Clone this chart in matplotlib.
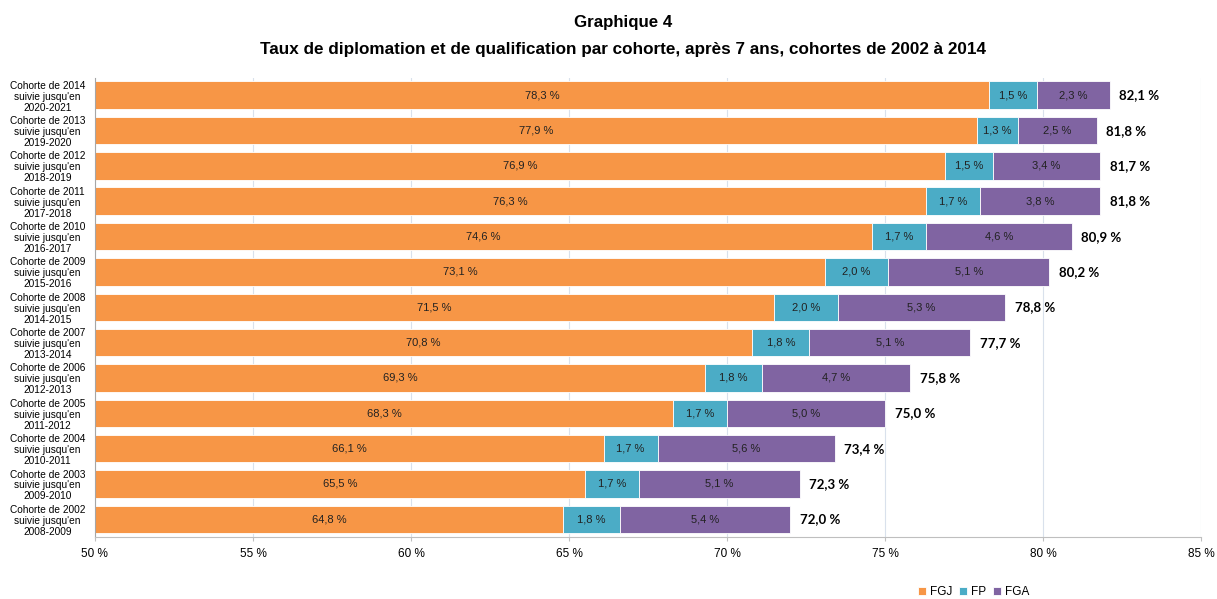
import matplotlib.pyplot as plt
import numpy as np

cohorts = ["2014", "2013", "2012", "2011", "2010", "2009", "2008",
           "2007", "2006", "2005", "2004", "2003", "2002"]
periods = ["2020-2021", "2019-2020", "2018-2019", "2017-2018", "2016-2017",
           "2015-2016", "2014-2015", "2013-2014", "2012-2013", "2011-2012",
           "2010-2011", "2009-2010", "2008-2009"]
fgj = [78.3, 77.9, 76.9, 76.3, 74.6, 73.1, 71.5, 70.8, 69.3, 68.3, 66.1, 65.5, 64.8]
fp = [1.5, 1.3, 1.5, 1.7, 1.7, 2.0, 2.0, 1.8, 1.8, 1.7, 1.7, 1.7, 1.8]
fga = [2.3, 2.5, 3.4, 3.8, 4.6, 5.1, 5.3, 5.1, 4.7, 5.0, 5.6, 5.1, 5.4]
total = [82.1, 81.8, 81.7, 81.8, 80.9, 80.2, 78.8, 77.7, 75.8, 75.0, 73.4, 72.3, 72.0]

def fr(v):
    return f"{v:.1f}".replace(".", ",") + " %"

plt.rcParams['font.family'] = ['Liberation Sans', 'DejaVu Sans']

fig = plt.figure(figsize=(12.17, 5.99), dpi=100)
ax = fig.add_axes([0.078, 0.1035, 0.909, 0.767])

y = np.arange(len(cohorts))
h = 0.78
base = 50
fgj_w = np.array(fgj) - base
fp_left = np.array(fgj)
fga_left = fp_left + np.array(fp)

ax.barh(y, fgj_w, left=base, height=h, color="#F79646", edgecolor="white", linewidth=0.6, label="FGJ", zorder=2)
ax.barh(y, fp, left=fp_left, height=h, color="#4BACC6", edgecolor="white", linewidth=0.6, label="FP", zorder=2)
ax.barh(y, fga, left=fga_left, height=h, color="#8064A2", edgecolor="white", linewidth=0.6, label="FGA", zorder=2)

for i in range(len(cohorts)):
    ax.text((base + fgj[i]) / 2, y[i], fr(fgj[i]), ha="center", va="center", fontsize=8, color="#222222", zorder=3)
    ax.text(fp_left[i] + fp[i] / 2, y[i], fr(fp[i]), ha="center", va="center", fontsize=8, color="#222222", zorder=3)
    ax.text(fga_left[i] + fga[i] / 2, y[i], fr(fga[i]), ha="center", va="center", fontsize=8, color="#222222", zorder=3)
    ax.text(fga_left[i] + fga[i] + 0.3, y[i], fr(total[i]), ha="left", va="center",
            fontsize=9.5, fontweight="bold", family=["Lato", "DejaVu Sans"], color="black", zorder=3)

ax.set_ylim(len(cohorts) - 0.5, -0.5)
ax.set_yticks(y)
ax.set_yticklabels([f"Cohorte de {c}\nsuivie jusqu'en\n{p}" for c, p in zip(cohorts, periods)],
                   fontsize=7.3, linespacing=1.12, ha="center")
ax.tick_params(axis="y", length=0, pad=34)

ax.set_xlim(50, 85)
ax.set_xticks(np.arange(50, 86, 5))
ax.set_xticklabels([f"{v} %" for v in range(50, 86, 5)], fontsize=8.5)
ax.tick_params(axis="x", length=3, color="#BFBFBF", pad=5)
ax.grid(axis="x", color="#D9E1EC", linewidth=0.8, zorder=0)
ax.set_axisbelow(True)

for s in ["top", "right"]:
    ax.spines[s].set_visible(False)
ax.spines["left"].set_color("#A6A6A6")
ax.spines["bottom"].set_color("#BFBFBF")

fig.text(0.512, 0.962, "Graphique 4", ha="center", va="center", fontsize=12.2, fontweight="bold")
fig.text(0.512, 0.918, "Taux de diplomation et de qualification par cohorte, après 7 ans, cohortes de 2002 à 2014",
         ha="center", va="center", fontsize=12.3, fontweight="bold")

fig.legend(loc="center", bbox_to_anchor=(0.8, 0.012), ncol=3, frameon=False, fontsize=8.5,
           handlelength=0.7, handleheight=0.7, handletextpad=0.3, columnspacing=0.6)

fig.savefig("out.png", dpi=100)
plt.close(fig)
